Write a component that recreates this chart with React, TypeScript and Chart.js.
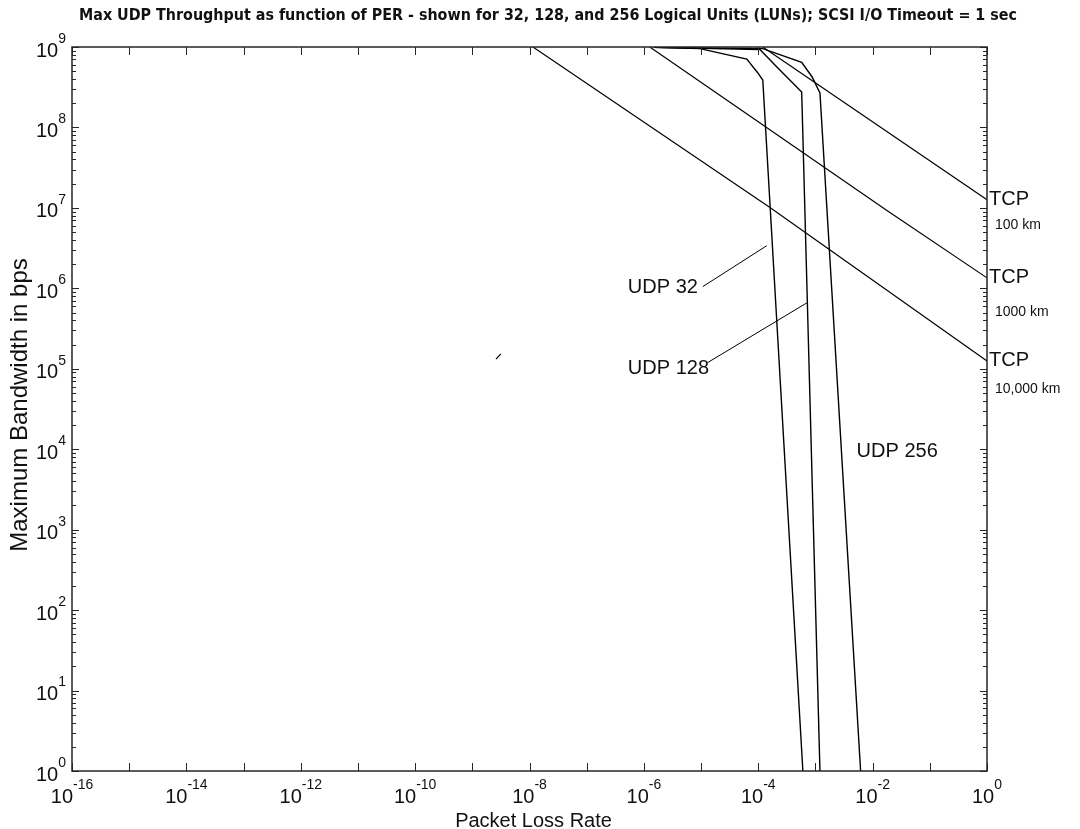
import React, { useEffect, useRef } from "react";
import { Chart, registerables } from "chart.js";

Chart.register(...registerables);

const TITLE =
  "Max UDP Throughput as function of PER - shown for 32, 128, and 256 Logical Units (LUNs); SCSI I/O Timeout = 1 sec";
const X_LABEL = "Packet Loss Rate";
const Y_LABEL = "Maximum Bandwidth in bps";

const X_MIN = 1e-16;
const X_MAX = 1;
const Y_MIN = 1;
const Y_MAX = 1e9;

const X_DECADES = [-16, -15, -14, -13, -12, -11, -10, -9, -8, -7, -6, -5, -4, -3, -2, -1, 0];
const X_LABELED = [-16, -14, -12, -10, -8, -6, -4, -2, 0];
const Y_DECADES = [0, 1, 2, 3, 4, 5, 6, 7, 8, 9];
const Y_MINOR_MULT = [2, 3, 4, 5, 6, 7, 8, 9];

// TCP lines (packet loss rate, bandwidth)
const TCP_100_PER = [1.2e-4, 1];
const TCP_100_BW = [1e9, 1.26e7];
const TCP_1000_PER = [1.27e-6, 1.78e-2, 1];
const TCP_1000_BW = [1e9, 9.3e6, 1.35e6];
const TCP_10000_PER = [1.15e-8, 1.58e-4, 1];
const TCP_10000_BW = [1e9, 1.02e7, 1.25e5];

// UDP curves
const UDP32_PER = [1.5e-6, 9.55e-6, 6.31e-5, 9.77e-5, 1.2e-4, 6.03e-4];
const UDP32_BW = [9.9e8, 9.55e8, 7.08e8, 4.79e8, 3.89e8, 1];
const UDP128_PER = [1.5e-6, 1.07e-4, 2.14e-4, 5.75e-4, 1.2e-3];
const UDP128_BW = [9.9e8, 9.3e8, 5.6e8, 2.75e8, 1];
const UDP256_PER = [1.5e-6, 1.2e-4, 5.75e-4, 8.7e-4, 1.2e-3, 6.17e-3];
const UDP256_BW = [9.9e8, 9.55e8, 6.46e8, 4.27e8, 2.69e8, 1];

// small stray stroke present in the original
const STRAY_PER = [2.59e-9, 3.16e-9];
const STRAY_BW = [1.32e5, 1.53e5];

// annotation leader lines
const LEADER32_PER = [1.07e-5, 1.41e-4];
const LEADER32_BW = [1.05e6, 3.39e6];
const LEADER128_PER = [1.32e-5, 7.08e-4];
const LEADER128_BW = [1.2e5, 6.6e5];

// annotation texts
const UDP_LABELS = ["UDP 32", "UDP 128", "UDP 256"];
const UDP_LABEL_PER = [5.25e-7, 5.25e-7, 5.25e-3];
const UDP_LABEL_BW = [1.02e6, 1.0e5, 9.3e3];

const TCP_LABELS = ["TCP", "TCP", "TCP"];
const TCP_LABEL_BW = [1.26e7, 1.35e6, 1.25e5];
const KM_LABELS = ["100 km", "1000 km", "10,000 km"];
const KM_LABEL_BW = [6.1e6, 5.1e5, 5.6e4];

const FONT = '"Liberation Sans", Arial, Helvetica, sans-serif';
const AXIS_COLOR = "#262626";

function pts(xs: number[], ys: number[]) {
  return xs.map((v, i) => ({ x: v, y: ys[i] }));
}

function lineDs(label: string, xs: number[], ys: number[], width = 1.2) {
  return {
    label,
    data: pts(xs, ys),
    borderColor: "#000000",
    backgroundColor: "#000000",
    borderWidth: width,
    pointRadius: 0,
    pointHoverRadius: 0,
    fill: false,
    tension: 0,
  };
}

function drawPow(
  ctx: CanvasRenderingContext2D,
  exp: number,
  anchorX: number,
  centerY: number,
  align: "center" | "right"
) {
  ctx.save();
  ctx.textBaseline = "middle";
  ctx.textAlign = "left";
  ctx.font = `20px ${FONT}`;
  const wb = ctx.measureText("10").width;
  ctx.font = `14px ${FONT}`;
  const es = String(exp);
  const we = ctx.measureText(es).width;
  const total = wb + we;
  const startX = align === "center" ? anchorX - total / 2 : anchorX - total;
  ctx.fillStyle = "#111";
  ctx.font = `20px ${FONT}`;
  ctx.fillText("10", startX, centerY + 4);
  ctx.font = `14px ${FONT}`;
  ctx.fillText(es, startX + wb, centerY - 8);
  ctx.restore();
}

const decorPlugin = {
  id: "decor",
  afterDraw(chart: any) {
    const ctx: CanvasRenderingContext2D = chart.ctx;
    const a = chart.chartArea;
    const xs = chart.scales.x;
    const ys = chart.scales.y;
    ctx.save();

    // ticks
    ctx.strokeStyle = AXIS_COLOR;
    ctx.lineWidth = 1;
    ctx.beginPath();
    for (const d of X_DECADES) {
      const px = Math.round(xs.getPixelForValue(Math.pow(10, d))) + 0.5;
      ctx.moveTo(px, a.bottom);
      ctx.lineTo(px, a.bottom - 8);
      ctx.moveTo(px, a.top);
      ctx.lineTo(px, a.top + 8);
    }
    for (const d of Y_DECADES) {
      const py = Math.round(ys.getPixelForValue(Math.pow(10, d))) + 0.5;
      ctx.moveTo(a.left, py);
      ctx.lineTo(a.left + 7, py);
      ctx.moveTo(a.right, py);
      ctx.lineTo(a.right - 7, py);
      if (d < 9) {
        for (const m of Y_MINOR_MULT) {
          const qy = Math.round(ys.getPixelForValue(m * Math.pow(10, d))) + 0.5;
          ctx.moveTo(a.left, qy);
          ctx.lineTo(a.left + 4, qy);
          ctx.moveTo(a.right, qy);
          ctx.lineTo(a.right - 4, qy);
        }
      }
    }
    ctx.stroke();

    // box
    ctx.lineWidth = 1.5;
    ctx.strokeRect(a.left, a.top, a.right - a.left, a.bottom - a.top);

    // tick labels
    for (const d of X_LABELED) {
      drawPow(ctx, d, xs.getPixelForValue(Math.pow(10, d)), 793, "center");
    }
    for (const d of Y_DECADES) {
      drawPow(ctx, d, a.left - 6, ys.getPixelForValue(Math.pow(10, d)), "right");
    }

    ctx.fillStyle = "#111";
    // title
    ctx.save();
    ctx.font = `bold 16px "DejaVu Sans Condensed", "DejaVu Sans", sans-serif`;
    const tw = ctx.measureText(TITLE).width;
    ctx.translate(79, 16);
    ctx.scale(938 / tw, 1);
    ctx.textBaseline = "middle";
    ctx.textAlign = "left";
    ctx.fillText(TITLE, 0, 0);
    ctx.restore();

    // x label
    ctx.save();
    ctx.font = `20px ${FONT}`;
    ctx.textAlign = "center";
    ctx.textBaseline = "top";
    ctx.fillText(X_LABEL, (a.left + a.right) / 2 + 4, 811);
    ctx.restore();

    // y label
    ctx.save();
    ctx.font = `24px ${FONT}`;
    ctx.translate(20, (a.top + a.bottom) / 2 - 4);
    ctx.rotate(-Math.PI / 2);
    ctx.textAlign = "center";
    ctx.textBaseline = "middle";
    ctx.fillText(Y_LABEL, 0, 0);
    ctx.restore();

    // UDP labels
    ctx.save();
    ctx.font = `20px ${FONT}`;
    ctx.textAlign = "left";
    ctx.textBaseline = "middle";
    UDP_LABELS.forEach((t, i) => {
      ctx.fillText(t, xs.getPixelForValue(UDP_LABEL_PER[i]), ys.getPixelForValue(UDP_LABEL_BW[i]));
    });
    ctx.restore();

    // TCP labels
    ctx.save();
    ctx.textAlign = "left";
    ctx.textBaseline = "middle";
    TCP_LABELS.forEach((t, i) => {
      ctx.font = `20px ${FONT}`;
      ctx.fillText(t, a.right + 2, ys.getPixelForValue(TCP_LABEL_BW[i]));
      ctx.font = `14px ${FONT}`;
      ctx.fillText(KM_LABELS[i], a.right + 8, ys.getPixelForValue(KM_LABEL_BW[i]));
    });
    ctx.restore();

    ctx.restore();
  },
};

export default function App() {
  const ref = useRef<HTMLCanvasElement | null>(null);

  useEffect(() => {
    if (!ref.current) return;
    const chart = new Chart(ref.current, {
      type: "line",
      data: {
        datasets: [
          lineDs("TCP 100 km", TCP_100_PER, TCP_100_BW),
          lineDs("TCP 1000 km", TCP_1000_PER, TCP_1000_BW),
          lineDs("TCP 10,000 km", TCP_10000_PER, TCP_10000_BW),
          lineDs("UDP 32", UDP32_PER, UDP32_BW, 1.4),
          lineDs("UDP 128", UDP128_PER, UDP128_BW, 1.4),
          lineDs("UDP 256", UDP256_PER, UDP256_BW, 1.4),
          lineDs("stray", STRAY_PER, STRAY_BW, 1.2),
          lineDs("leader 32", LEADER32_PER, LEADER32_BW, 1),
          lineDs("leader 128", LEADER128_PER, LEADER128_BW, 1),
        ] as any,
      },
      options: {
        animation: false,
        responsive: false,
        devicePixelRatio: 1,
        layout: { padding: { left: 72, right: 93, top: 47, bottom: 58 } },
        plugins: {
          legend: { display: false },
          tooltip: { enabled: false },
          title: { display: false },
        },
        scales: {
          x: { type: "logarithmic", min: X_MIN, max: X_MAX, display: false },
          y: { type: "logarithmic", min: Y_MIN, max: Y_MAX, display: false },
        },
      } as any,
      plugins: [decorPlugin],
    });
    return () => chart.destroy();
  }, []);

  return (
    <div style={{ position: "absolute", left: 0, top: 0, width: 1080, height: 829, background: "#fff" }}>
      <canvas ref={ref} width={1080} height={829} style={{ display: "block" }} />
    </div>
  );
}
